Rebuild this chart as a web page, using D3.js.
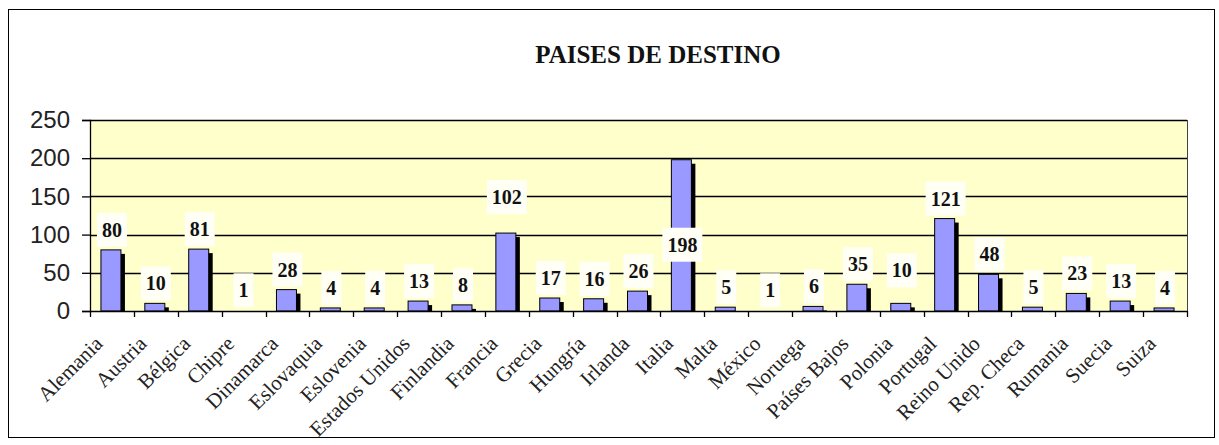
<!DOCTYPE html>
<html>
<head>
<meta charset="utf-8">
<script src="https://cdn.jsdelivr.net/npm/d3@7"></script>
<style>
  body { margin: 0; background: #fff; }
  svg { display: block; }
</style>
</head>
<body>
<script>
// data
const countries = ["Alemania", "Austria", "Bélgica", "Chipre", "Dinamarca", "Eslovaquia",
  "Eslovenia", "Estados Unidos", "Finlandia", "Francia", "Grecia", "Hungría", "Irlanda",
  "Italia", "Malta", "México", "Noruega", "Países Bajos", "Polonia", "Portugal",
  "Reino Unido", "Rep. Checa", "Rumania", "Suecia", "Suiza"];
const students = [80, 10, 81, 1, 28, 4, 4, 13, 8, 102, 17, 16, 26, 198, 5, 1, 6, 35, 10, 121, 48, 5, 23, 13, 4];
const yTicks = [0, 50, 100, 150, 200, 250];
const title = "PAISES DE DESTINO";

// labels that were dragged away from their default spot (px)
const labelNudge = { "Francia": -16, "Polonia": -13, "Italia": 105 };

const W = 1219, H = 445;
const plot = { left: 90, right: 1187, top: 120, bottom: 311 };

let svg = d3.select("body").append("svg")
    .attr("width", W)
    .attr("height", H);

// chart border
svg.append("rect")
    .attr("x", 8.5).attr("y", 9.5)
    .attr("width", 1206).attr("height", 428)
    .attr("fill", "#fff")
    .attr("stroke", "#000")
    .attr("stroke-width", 1);

svg.append("text")
    .attr("x", 658).attr("y", 63)
    .attr("text-anchor", "middle")
    .style("font-family", "'Liberation Serif', 'Times New Roman', serif")
    .style("font-weight", "bold")
    .style("font-size", "25px")
    .style("fill", "#111")
    .text(title);

let x = d3.scaleBand()
    .domain(countries)
    .range([plot.left, plot.right])
    .paddingInner(0)
    .paddingOuter(0);

let y = d3.scaleLinear()
    .domain([0, 250])
    .range([plot.bottom, plot.top]);

// plot area
svg.append("rect")
    .attr("x", plot.left).attr("y", plot.top)
    .attr("width", plot.right - plot.left)
    .attr("height", plot.bottom - plot.top)
    .attr("fill", "#FFFFCC");

svg.append("line")
    .attr("x1", plot.right + 0.5).attr("x2", plot.right + 0.5)
    .attr("y1", plot.top).attr("y2", plot.bottom)
    .attr("stroke", "#444").attr("stroke-width", 1);

// gridlines
svg.append("g")
    .selectAll("line")
    .data(yTicks.filter(d => d > 0))
    .enter().append("line")
    .attr("x1", plot.left).attr("x2", plot.right)
    .attr("y1", d => Math.round(y(d)) + 0.5)
    .attr("y2", d => Math.round(y(d)) + 0.5)
    .attr("stroke", "#000")
    .attr("stroke-width", 1.3);

function labelY(d, i) {
    return y(d) - 20 + (labelNudge[countries[i]] || 0);
}

let barW = 20;
let shadow = svg.append("g");
let bars = svg.append("g");

shadow.selectAll("rect")
    .data(students)
    .enter().append("rect")
    .attr("x", (d, i) => x(countries[i]) + x.bandwidth() / 2 - barW / 2 - 1 + 4)
    .attr("y", d => y(d) + 4)
    .attr("width", barW)
    .attr("height", d => Math.max(0, plot.bottom - y(d) - 4))
    .attr("fill", "#000");

// tiny bars (value 1) disappear under the axis in the original
bars.selectAll("rect")
    .data(students.map((v, i) => ({ v: v, c: countries[i] })).filter(d => plot.bottom - y(d.v) > 2))
    .enter().append("rect")
    .attr("x", d => x(d.c) + x.bandwidth() / 2 - barW / 2 - 1)
    .attr("y", d => y(d.v))
    .attr("width", barW)
    .attr("height", d => plot.bottom - y(d.v))
    .attr("fill", "#9999FF")
    .attr("stroke", "#000")
    .attr("stroke-width", 1);

// value labels
let labels = svg.append("g")
    .selectAll("g")
    .data(students)
    .enter().append("g")
    .attr("transform", (d, i) => `translate(${x(countries[i]) + x.bandwidth() / 2},${labelY(d, i)})`);

labels.append("rect")
    .attr("fill", "#FFFFF6");

labels.append("text")
    .attr("text-anchor", "middle")
    .attr("dy", "0.35em")
    .style("font-family", "'Liberation Serif', 'Times New Roman', serif")
    .style("font-weight", "bold")
    .style("font-size", "20px")
    .style("fill", "#111")
    .text(d => d);

labels.each(function() {
    let g = d3.select(this);
    let bw = g.select("text").node().getComputedTextLength();
    g.select("rect")
        .attr("x", -bw / 2 - 5)
        .attr("y", -17)
        .attr("width", bw + 10)
        .attr("height", 34);
});

// y axis
let yAxis = svg.append("g")
    .attr("transform", `translate(${plot.left},0)`)
    .call(d3.axisLeft(y).tickValues(yTicks).tickSize(8).tickPadding(12));
yAxis.select(".domain").attr("stroke", "#000").attr("stroke-width", 1.3);
yAxis.selectAll(".tick line").attr("stroke", "#000").attr("stroke-width", 1.3);
yAxis.selectAll(".tick text")
    .style("font-family", "'Liberation Sans', Arial, sans-serif")
    .style("font-size", "24px")
    .style("fill", "#222");

// x axis: ticks at band boundaries
let xAxisG = svg.append("g");
xAxisG.append("line")
    .attr("x1", plot.left).attr("x2", plot.right + 1)
    .attr("y1", plot.bottom + 0.5).attr("y2", plot.bottom + 0.5)
    .attr("stroke", "#000").attr("stroke-width", 1.3);
xAxisG.selectAll(".xt")
    .data(countries.concat(["end"]))
    .enter().append("line")
    .attr("class", "xt")
    .attr("x1", (d, i) => Math.round(plot.left + i * x.step()) + 0.5)
    .attr("x2", (d, i) => Math.round(plot.left + i * x.step()) + 0.5)
    .attr("y1", plot.bottom)
    .attr("y2", plot.bottom + 6)
    .attr("stroke", "#000").attr("stroke-width", 1.3);

xAxisG.selectAll(".xl")
    .data(countries)
    .enter().append("text")
    .attr("class", "xl")
    .attr("text-anchor", "end")
    .attr("transform", d => `translate(${x(d) + x.bandwidth() / 2 - 8},${plot.bottom + 34}) rotate(-45)`)
    .style("font-family", "'Liberation Serif', 'Times New Roman', serif")
    .style("font-size", "21px")
    .style("fill", "#222")
    .text(d => d);
</script>
</body>
</html>
